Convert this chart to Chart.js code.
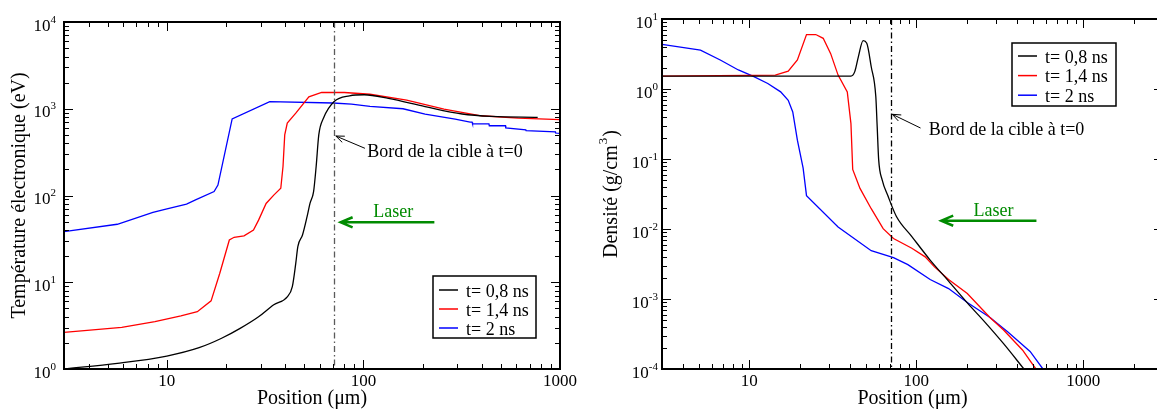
<!DOCTYPE html>
<html>
<head>
<meta charset="utf-8">
<script src="https://cdn.jsdelivr.net/npm/chart.js@4"></script>
<style>
  html, body { margin: 0; padding: 0; background: #fff; width: 1157px; height: 410px; overflow: hidden; }
  #wrapTemp { position: absolute; left: 0; top: 0; width: 580px; height: 410px; }
  #wrapDens { position: absolute; left: 580px; top: 0; width: 600px; height: 410px; }
</style>
</head>
<body>
<div id="wrapTemp"><canvas id="chartTemp" width="580" height="410"></canvas></div>
<div id="wrapDens"><canvas id="chartDens" width="600" height="410"></canvas></div>
<script>
// ---- Electron temperature (eV) vs position (µm) ----
const tempPos08 = [3, 5.6, 10, 14.6, 19, 23.6, 29.3, 35, 41, 43.5, 45.3, 46.4, 49, 51.7, 53.5, 55.8, 57.5, 59.3, 62.7, 71, 85, 101, 134, 206, 318, 450, 770];
const tempVal08 = [1.0, 1.16, 1.41, 1.76, 2.26, 2.94, 4.0, 5.5, 6.8, 8.9, 16.6, 25.8, 35, 57, 81, 111, 216, 500, 780, 1210, 1410, 1450, 1320, 1060, 870, 815, 796];

const tempPos14 = [3, 5.9, 8.7, 11.8, 14.3, 16.8, 18.6, 20.8, 22, 24.7, 27.6, 29.3, 32, 35, 38, 39, 39.8, 41, 45.3, 52.8, 61.3, 80, 108, 166, 257, 397, 613, 1000];
const tempVal14 = [2.65, 3.02, 3.52, 4.09, 4.58, 6.1, 12.7, 30.7, 33, 34.2, 40, 52, 81, 101, 121, 216, 500, 685, 890, 1370, 1540, 1540, 1470, 1260, 990, 830, 780, 750];

const tempPos20 = [3, 5.6, 8.5, 9.9, 12.6, 14.0, 17.4, 18.2, 21.5, 33.4, 70, 87, 108, 159, 206, 293, 349, 357, 359, 435, 437, 528, 530, 670, 672, 948, 950, 1000];
const tempVal20 = [38.4, 46.6, 64, 69.7, 79.6, 89, 111, 132, 765, 1210, 1165, 1130, 1065, 1000, 868, 760, 700, 700, 671, 671, 637, 637, 600, 572, 560, 540, 525, 520];

// ---- Density (g/cm3) vs position (µm) ----
const densPos08 = [3, 40.6, 42.8, 45, 48, 50.5, 53.7, 57.2, 58.3, 59.5, 62.5, 67.5, 76, 94, 121, 156, 202, 259, 333, 441];
const densVal08 = [1.53, 1.53, 1.77, 2.9, 4.9, 4.5, 2.08, 0.78, 0.29, 0.098, 0.05, 0.030, 0.0151, 0.0078, 0.0036, 0.0018, 0.00088, 0.00046, 0.00023, 0.0001];

const densPos14 = [3, 14.3, 17.1, 19.4, 22, 25, 27.7, 30.7, 34, 38.6, 40.6, 41.6, 46, 53.7, 63.3, 73, 94, 113, 128, 156, 202, 275, 333, 432, 520];
const densVal14 = [1.53, 1.58, 1.8, 2.6, 6.0, 6.0, 5.3, 3.2, 1.58, 0.91, 0.32, 0.071, 0.038, 0.0195, 0.0101, 0.0073, 0.0053, 0.004, 0.0029, 0.0019, 0.0012, 0.00055, 0.00036, 0.000187, 0.0001];

const densPos20 = [3, 5.1, 6.7, 8.6, 10.5, 12.9, 15.4, 17.1, 18.2, 19.4, 21.0, 22.0, 34, 53.7, 73, 89, 121, 156, 202, 275, 352, 480, 573];
const densVal20 = [4.34, 3.6, 2.6, 1.87, 1.53, 1.2, 0.91, 0.69, 0.47, 0.186, 0.074, 0.030, 0.0107, 0.0049, 0.0039, 0.0031, 0.0019, 0.00141, 0.00089, 0.00055, 0.00034, 0.000178, 0.0001];

// ---- Series labels and tick labels ----
const seriesLabels = ['t= 0,8 ns', 't= 1,4 ns', 't= 2 ns'];
const seriesColors = ['#000000', '#ff0000', '#0000ff'];
const positionTickLabels = ['10', '100', '1000'];
const tempTickExponents = ['0', '1', '2', '3', '4'];
const densTickExponents = ['-4', '-3', '-2', '-1', '0', '1'];
const targetEdge = 71; // initial target edge, µm

const SERIF = '"Liberation Serif", "Times New Roman", serif';

function toPoints(xs, ys) { return xs.map((x, i) => ({ x: x, y: ys[i] })); }

function makeDatasets(pairs) {
  return pairs.map((p, i) => ({
    label: seriesLabels[i],
    data: toPoints(p[0], p[1]),
    borderColor: seriesColors[i],
    borderWidth: 1.3,
    pointRadius: 0,
    tension: 0,
    cubicInterpolationMode: i === 0 ? 'monotone' : 'default',
    fill: false
  }));
}

function arrow(ctx, x1, y1, x2, y2, head, ang) {
  ctx.beginPath();
  ctx.moveTo(x1, y1); ctx.lineTo(x2, y2);
  const a = Math.atan2(y1 - y2, x1 - x2);
  ctx.moveTo(x2 + head * Math.cos(a + ang), y2 + head * Math.sin(a + ang));
  ctx.lineTo(x2, y2);
  ctx.lineTo(x2 + head * Math.cos(a - ang), y2 + head * Math.sin(a - ang));
  ctx.stroke();
}

// Frame, inward log ticks, labels, legend and annotations
const decorPlugin = {
  id: 'decor',
  afterDatasetsDraw(chart, args, o) {
    const ctx = chart.ctx, a = chart.chartArea, sx = chart.scales.x, sy = chart.scales.y;
    ctx.save();

    // target edge (dash-dot vertical line)
    const ex = Math.round(sx.getPixelForValue(targetEdge)) + 0.5;
    ctx.strokeStyle = o.edgeColor; ctx.lineWidth = 1.3;
    ctx.setLineDash([6, 3, 1.5, 3]);
    ctx.beginPath(); ctx.moveTo(ex, a.top); ctx.lineTo(ex, a.bottom); ctx.stroke();
    ctx.setLineDash([]);

    // ticks
    ctx.strokeStyle = '#000'; ctx.lineWidth = 1;
    const major = 9, minor = 5;
    const eachLog = (min, max, fn) => {
      for (let d = Math.floor(Math.log10(min)); d <= Math.ceil(Math.log10(max)); d++) {
        for (let m = 1; m <= 9; m++) {
          const v = m * Math.pow(10, d);
          if (v < min * 0.999 || v > max * 1.001) continue;
          fn(v, m === 1 ? major : minor);
        }
      }
    };
    ctx.beginPath();
    eachLog(sx.min, sx.max, (v, len) => {
      const px = Math.round(sx.getPixelForValue(v)) + 0.5;
      ctx.moveTo(px, a.bottom); ctx.lineTo(px, a.bottom - len);
      ctx.moveTo(px, a.top); ctx.lineTo(px, a.top + len);
    });
    eachLog(sy.min, sy.max, (v, len) => {
      const py = Math.round(sy.getPixelForValue(v)) + 0.5;
      ctx.moveTo(a.left, py); ctx.lineTo(a.left + len, py);
      ctx.moveTo(a.right, py); ctx.lineTo(a.right - len, py);
    });
    ctx.stroke();

    // frame
    ctx.lineWidth = 2;
    ctx.strokeRect(a.left, a.top, a.right - a.left, a.bottom - a.top);

    // x tick labels
    ctx.fillStyle = '#000';
    ctx.font = '17px ' + SERIF;
    ctx.textAlign = 'center'; ctx.textBaseline = 'alphabetic';
    o.xLabels.forEach(t => {
      ctx.fillText(t, sx.getPixelForValue(Number(t)), o.xLabelBaseline);
    });

    // y tick labels (powers of ten)
    o.yExponents.forEach(e => {
      const py = sy.getPixelForValue(Math.pow(10, Number(e)));
      ctx.font = '11px ' + SERIF;
      const sw = ctx.measureText(e).width;
      ctx.font = '17px ' + SERIF;
      const bw = ctx.measureText('10').width;
      const xr = a.left - o.yLabelGap;
      ctx.textAlign = 'left';
      ctx.fillText('10', xr - sw - bw, py + 8.5);
      ctx.font = '11px ' + SERIF;
      ctx.fillText(e, xr - sw, py + 0.5);
    });

    // x axis title
    ctx.font = '20px ' + SERIF;
    ctx.textAlign = 'center';
    ctx.fillText('Position (\u03bcm)', (a.left + a.right) / 2, 404);

    // y axis title
    ctx.save();
    ctx.translate(o.yTitleX, (a.top + a.bottom) / 2);
    ctx.rotate(-Math.PI / 2);
    ctx.textBaseline = 'middle';
    if (o.yTitleSup) {
      ctx.font = '20px ' + SERIF;
      const w1 = ctx.measureText(o.yTitle).width;
      const w3 = ctx.measureText(')').width;
      ctx.font = '13px ' + SERIF;
      const w2 = ctx.measureText(o.yTitleSup).width + 2;
      let x0 = -(w1 + w2 + w3) / 2;
      ctx.textAlign = 'left';
      ctx.font = '20px ' + SERIF;
      ctx.fillText(o.yTitle, x0, 0);
      ctx.font = '13px ' + SERIF;
      ctx.fillText(o.yTitleSup, x0 + w1 + 1, -8);
      ctx.font = '20px ' + SERIF;
      ctx.fillText(')', x0 + w1 + w2, 0);
    } else {
      ctx.font = '20px ' + SERIF;
      ctx.textAlign = 'center';
      ctx.fillText(o.yTitle, 0, 0);
    }
    ctx.restore();

    // legend
    const L = o.legend;
    ctx.fillStyle = '#fff';
    ctx.fillRect(L.x, L.y, L.w, L.h);
    ctx.strokeStyle = '#000'; ctx.lineWidth = 1.5;
    ctx.strokeRect(L.x, L.y, L.w, L.h);
    ctx.font = '18px ' + SERIF;
    ctx.textAlign = 'left'; ctx.textBaseline = 'alphabetic';
    chart.data.datasets.forEach((ds, i) => {
      const ry = L.y + L.row0 + i * L.step;
      ctx.strokeStyle = ds.borderColor; ctx.lineWidth = 1.5;
      ctx.beginPath(); ctx.moveTo(L.x + 6, ry); ctx.lineTo(L.x + 25, ry); ctx.stroke();
      ctx.fillStyle = '#000';
      ctx.fillText(ds.label, L.x + 33, ry + 6.5);
    });

    // annotations
    const P = (pt) => [sx.getPixelForValue(pt[0]), sy.getPixelForValue(pt[1])];
    const n = o.notes;
    ctx.fillStyle = '#000';
    ctx.font = '18px ' + SERIF;
    const bt = P(n.edgeText);
    ctx.fillText('Bord de la cible \u00e0 t=0', bt[0], bt[1]);
    const b1 = P(n.edgeArrowFrom), b2 = P(n.edgeArrowTo);
    ctx.strokeStyle = '#000'; ctx.lineWidth = 1;
    arrow(ctx, b1[0], b1[1], b2[0], b2[1], 9, 0.38);

    const green = '#008b00';
    ctx.fillStyle = green;
    ctx.textAlign = 'center';
    const lt = P(n.laserText);
    ctx.fillText('Laser', lt[0], lt[1]);
    const l1 = P(n.laserFrom), l2 = P(n.laserTo);
    ctx.strokeStyle = green; ctx.lineWidth = 2.5;
    arrow(ctx, l1[0], l1[1], l2[0], l2[1], 13, 0.4);

    ctx.restore();
  }
};

function logAxis(min, max) {
  return { type: 'logarithmic', min: min, max: max, display: false };
}

new Chart(document.getElementById('chartTemp'), {
  type: 'line',
  data: { datasets: makeDatasets([[tempPos08, tempVal08], [tempPos14, tempVal14], [tempPos20, tempVal20]]) },
  options: {
    responsive: false,
    animation: false,
    layout: { padding: { left: 64, top: 22, right: 20, bottom: 41 } },
    scales: { x: logAxis(3, 1000), y: logAxis(1, 1e4) },
    plugins: {
      legend: { display: false },
      tooltip: { enabled: false },
      decor: {
        edgeColor: '#5a5a5a',
        xLabels: positionTickLabels,
        xLabelBaseline: 386,
        yExponents: tempTickExponents,
        yLabelGap: 8,
        yTitle: 'Temp\u00e9rature \u00e9lectronique (eV)',
        yTitleX: 20,
        legend: { x: 433, y: 276, w: 103, h: 62, row0: 14, step: 19 },
        notes: {
          edgeText: [104.5, 276], edgeArrowFrom: [101.8, 350], edgeArrowTo: [72.4, 485],
          laserText: [142, 57], laserFrom: [229.6, 49.1], laserTo: [76.6, 49.1]
        }
      }
    }
  },
  plugins: [decorPlugin]
});

new Chart(document.getElementById('chartDens'), {
  type: 'line',
  data: { datasets: makeDatasets([[densPos08, densVal08], [densPos14, densVal14], [densPos20, densVal20]]) },
  options: {
    responsive: false,
    animation: false,
    layout: { padding: { left: 82, top: 19, right: 17, bottom: 41 } },
    scales: { x: logAxis(3, 3000), y: logAxis(1e-4, 10) },
    plugins: {
      legend: { display: false },
      tooltip: { enabled: false },
      decor: {
        edgeColor: '#000000',
        xLabels: positionTickLabels,
        xLabelBaseline: 386,
        yExponents: densTickExponents,
        yLabelGap: 4,
        yTitle: 'Densit\u00e9 (g/cm',
        yTitleSup: '3',
        yTitleX: 32,
        legend: { x: 432, y: 43, w: 104, h: 63, row0: 13, step: 19.6 },
        notes: {
          edgeText: [118.6, 0.22], edgeArrowFrom: [106, 0.277], edgeArrowTo: [71.8, 0.435],
          laserText: [290, 0.0155], laserFrom: [524, 0.01315], laserTo: [141, 0.01315]
        }
      }
    }
  },
  plugins: [decorPlugin]
});
</script>
</body>
</html>
